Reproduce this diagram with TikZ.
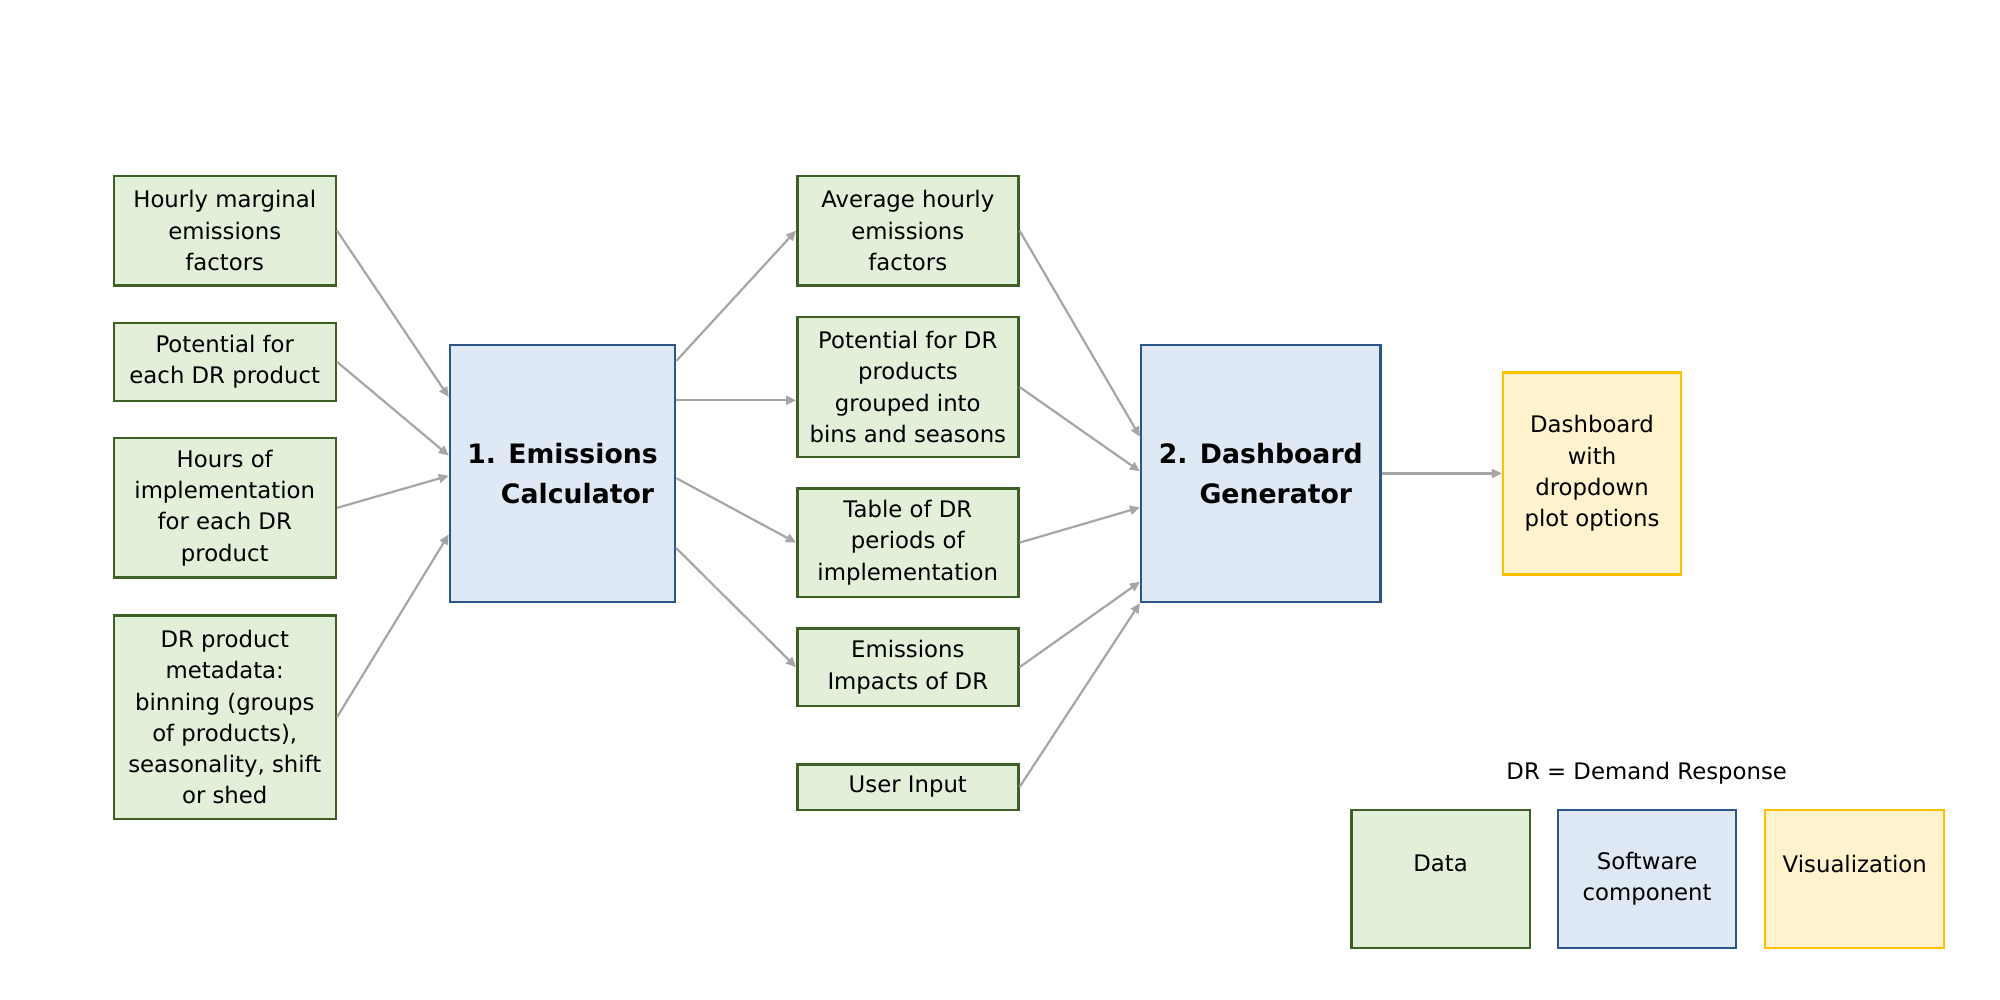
\documentclass[tikz,border=0pt]{standalone}
\usepackage{fontspec}
\setmainfont{DejaVu Sans}
\usetikzlibrary{arrows.meta,calc}

\definecolor{datfill}{HTML}{E2EFD9}
\definecolor{datline}{HTML}{3E6027}
\definecolor{softfill}{HTML}{DEE9F5}
\definecolor{softline}{HTML}{2C5689}
\definecolor{vizfill}{HTML}{FFF2CC}
\definecolor{vizline}{HTML}{FFC000}
\definecolor{flowgray}{HTML}{A6A6A6}

\tikzset{
	box/.style={rectangle, inner sep=0pt, line width=2.5pt, align=center,
		font=\fontsize{22.8}{31.25}\selectfont},
	datbox/.style={box, draw=datline, fill=datfill, minimum width=222pt},
	softbox/.style={box, draw=softline, fill=softfill,
		font=\bfseries\fontsize{26.7}{40.2}\selectfont},
	vizbox/.style={box, draw=vizline, fill=vizfill},
	flow/.style={draw=flowgray, line width=2.2pt, -{Triangle[length=10pt,width=9pt]}}
}

\begin{document}
\begin{tikzpicture}[x=1pt,y=-1pt]

	\useasboundingbox (0,0) rectangle (2000,1000);

	% inputs
	\node [datbox, minimum height=109.4pt] (hmef) at (224.75,230.6) {Hourly marginal\\emissions\\factors};
	\node [datbox, minimum height=78.1pt] (pot) at (224.75,361.85) {Potential for\\each DR product};
	\node [datbox, minimum height=139.7pt] (hours) at (224.75,507.85) {Hours of\\implementation\\for each DR\\product};
	\node [datbox, minimum height=203.2pt] (meta) at (224.75,717.2) {DR product\\metadata:\\binning (groups\\of products),\\seasonality, shift\\or shed};

	% software components
	\node [softbox, minimum width=225pt, minimum height=256.7pt] (emis) at (562.5,473.45) {1. Emissions\\\hspace*{30pt}Calculator};
	\node [softbox, minimum width=239.2pt, minimum height=256.7pt] (dash) at (1260.8,473.45) {2. Dashboard\\\hspace*{30pt}Generator};

	% intermediate data
	\node [datbox, minimum width=221pt, minimum height=109.4pt] (avg) at (907.8,230.6) {Average hourly\\emissions\\factors};
	\node [datbox, minimum width=221pt, minimum height=140.1pt] (potbin) at (907.8,387) {Potential for DR\\products\\grouped into\\bins and seasons};
	\node [datbox, minimum width=221pt, minimum height=108.5pt] (table) at (907.8,542.65) {Table of DR\\periods of\\implementation};
	\node [datbox, minimum width=221pt, minimum height=77.2pt] (impact) at (907.8,667.2) {Emissions\\Impacts of DR};
	\node [datbox, minimum width=221pt, minimum height=45.5pt] (user) at (907.8,787) {User Input};

	% output
	\node [vizbox, minimum width=177.7pt, minimum height=202.3pt] (viz) at (1592,473.45) {Dashboard\\with\\dropdown\\plot options};

	% flows into the calculator
	\draw [flow] (hmef.east) -- ($(emis.north west)!0.205!(emis.south west)$);
	\draw [flow] (pot.east) -- ($(emis.north west)!0.431!(emis.south west)$);
	\draw [flow] (hours.east) -- ($(emis.north west)!0.509!(emis.south west)$);
	\draw [flow] (meta.east) -- ($(emis.north west)!0.735!(emis.south west)$);

	% flows out of the calculator
	\coordinate (emisout) at ($(emis.north east)!0.218!(emis.south east)$);
	\draw [flow] ($(emis.north east)!0.066!(emis.south east)$) -- (avg.west);
	\draw [flow] (emisout) -- (emisout -| potbin.west);
	\draw [flow] ($(emis.north east)!0.518!(emis.south east)$) -- (table.west);
	\draw [flow] ($(emis.north east)!0.788!(emis.south east)$) -- (impact.west);

	% flows into the generator
	\draw [flow] (avg.east) -- ($(dash.north west)!0.358!(dash.south west)$);
	\draw [flow] (potbin.east) -- ($(dash.north west)!0.492!(dash.south west)$);
	\draw [flow] (table.east) -- ($(dash.north west)!0.631!(dash.south west)$);
	\draw [flow] (impact.east) -- ($(dash.north west)!0.918!(dash.south west)$);
	\draw [flow] (user.east) -- (dash.south west);
	\draw [flow] (dash.east) -- (viz.west);

	% legend
	\node [font=\fontsize{22.8}{31.25}\selectfont] (drnote) at (1646.7,773.2) {DR = Demand Response};
	\node [datbox, minimum width=178.6pt, minimum height=138.4pt] (keydat) at (1440.6,879) {Data\\\mbox{}};
	\node [box, draw=softline, fill=softfill, minimum width=178.2pt, minimum height=138.4pt] (keysoft) at (1647.1,879) {Software\\component};
	\node [vizbox, minimum width=179pt, minimum height=138.4pt] (keyviz) at (1854.7,879) {Visualization\\\mbox{}};

\end{tikzpicture}
\end{document}
